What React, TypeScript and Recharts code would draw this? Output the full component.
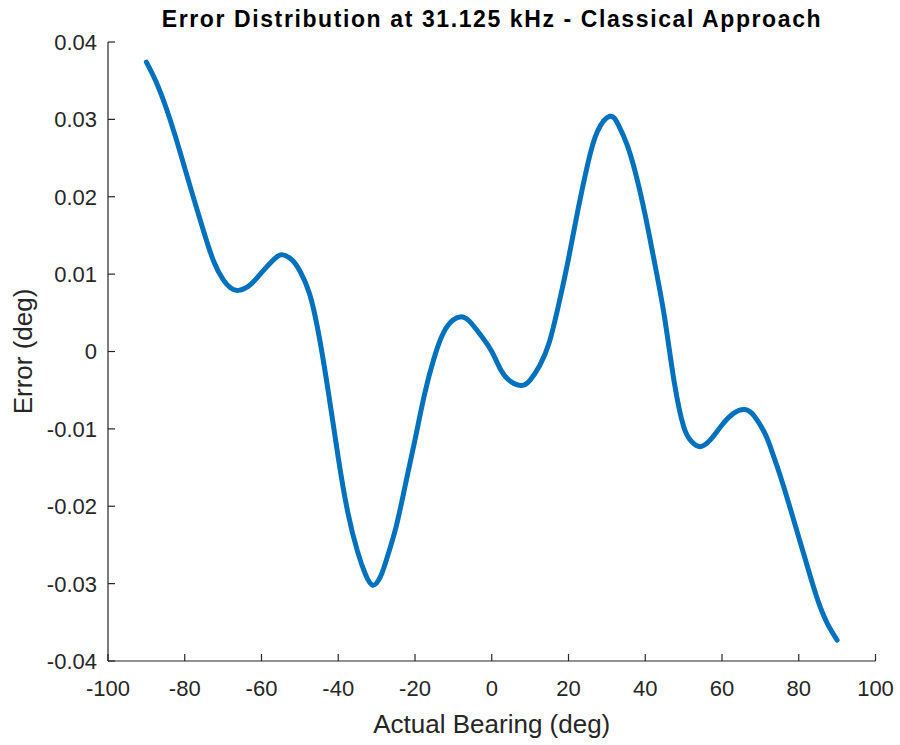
import { Label, Line, LineChart, XAxis, YAxis } from "recharts";

// bearing (deg) and error (deg)
const BEARING = [
  -90, -87.5, -85, -82.5, -80, -77.5, -75, -72.5, -70, -68, -66, -63, -60, -57,
  -54.7, -52, -50, -47.5, -45, -42.5, -40, -37.5, -35, -33, -31, -29, -27.5, -25,
  -22.5, -20, -17.5, -15, -12.5, -10, -8, -6, -3, 0, 2.5, 5, 7.8, 10, 12.5, 15,
  17.5, 20, 22.5, 25, 27.5, 30.8, 33, 35.2, 37.5, 40, 42.5, 45, 47.5, 50, 52,
  54.3, 57, 60, 63, 66, 68.5, 71, 72.5, 75, 77.5, 80, 82.5, 85, 87.5, 90,
];
const ERROR = [
  0.0374, 0.0349, 0.0317, 0.0279, 0.0237, 0.0195, 0.0154, 0.0117, 0.0093,
  0.0082, 0.0079, 0.0086, 0.0102, 0.0118, 0.0125, 0.0118, 0.0104, 0.0075, 0.002,
  -0.0055, -0.0137, -0.0208, -0.0258, -0.0287, -0.0302, -0.0291, -0.027,
  -0.0228, -0.0172, -0.0114, -0.0055, -0.0008, 0.0025, 0.0041, 0.0045, 0.004,
  0.0022, 0.0, -0.0025, -0.0039, -0.0044, -0.0037, -0.0018, 0.0012, 0.0062,
  0.012, 0.0184, 0.0242, 0.0284, 0.0304, 0.0293, 0.0268, 0.023, 0.0176, 0.0113,
  0.0045, -0.0038, -0.0097, -0.0116, -0.0123, -0.0114, -0.0095, -0.008, -0.0075,
  -0.0084, -0.0104, -0.0122, -0.0158, -0.0198, -0.024, -0.0282, -0.0322,
  -0.0352, -0.0373,
];
const X_TICKS = [-100, -80, -60, -40, -20, 0, 20, 40, 60, 80, 100];
const Y_TICKS = [-0.04, -0.03, -0.02, -0.01, 0, 0.01, 0.02, 0.03, 0.04];

const data = BEARING.map((b, i) => ({ bearing: b, error: ERROR[i] }));

const INK = "#262626";
const FONT = "'Liberation Sans', Arial, Helvetica, sans-serif";

function fmtY(v: number) {
  if (Math.abs(v) < 1e-9) return "0";
  return v.toFixed(2);
}

// MATLAB-style ticks point into the axes
function YTick(props: any) {
  const { x, y, payload } = props;
  return (
    <g>
      <line x1={x + 11} y1={y} x2={x + 18} y2={y} stroke={INK} strokeWidth={1.2} />
      <text x={x} y={y} dy="0.36em" textAnchor="end" fill={INK} fontSize={22} fontFamily={FONT}>
        {fmtY(payload.value)}
      </text>
    </g>
  );
}

function XTick(props: any) {
  const { x, y, payload } = props;
  return (
    <g>
      <line x1={x} y1={y - 19} x2={x} y2={y - 26} stroke={INK} strokeWidth={1.2} />
      <text x={x} y={y} dy="0.72em" textAnchor="middle" fill={INK} fontSize={22} fontFamily={FONT}>
        {payload.value}
      </text>
    </g>
  );
}

export default function App() {
  return (
    <div style={{ position: "absolute", left: 0, top: 0, width: 900, height: 745, background: "#fff" }}>
      <div
        style={{
          position: "absolute",
          left: 92,
          width: 800,
          top: 8,
          textAlign: "center",
          fontFamily: FONT,
          fontWeight: "bold",
          fontSize: 23,
          lineHeight: "23px",
          letterSpacing: 1.6,
          color: "#000",
          whiteSpace: "nowrap",
        }}
      >
        Error Distribution at 31.125 kHz - Classical Approach
      </div>
      <LineChart
        width={900}
        height={745}
        data={data}
        margin={{ top: 42, right: 24.5, bottom: 30, left: 23 }}
      >
        <XAxis
          type="number"
          dataKey="bearing"
          domain={[-100, 100]}
          ticks={X_TICKS}
          interval={0}
          height={54}
          tickSize={0}
          tickMargin={19}
          tickLine={false}
          axisLine={{ stroke: INK, strokeWidth: 1.2 }}
          tick={<XTick />}
        >
          <Label
            value="Actual Bearing (deg)"
            position="bottom"
            offset={0}
            fill={INK}
            fontSize={26}
            fontFamily={FONT}
          />
        </XAxis>
        <YAxis
          type="number"
          domain={[-0.04, 0.04]}
          ticks={Y_TICKS}
          interval={0}
          width={85}
          tickSize={0}
          tickMargin={11}
          tickLine={false}
          axisLine={{ stroke: INK, strokeWidth: 1.2 }}
          tick={<YTick />}
        >
          <Label
            value="Error (deg)"
            angle={-90}
            position="insideLeft"
            offset={0}
            fill={INK}
            fontSize={26}
            fontFamily={FONT}
            style={{ textAnchor: "middle" }}
          />
        </YAxis>
        <Line
          type="natural"
          dataKey="error"
          stroke="#0072BD"
          strokeWidth={5}
          strokeLinecap="round"
          dot={false}
          activeDot={false}
          isAnimationActive={false}
        />
      </LineChart>
    </div>
  );
}
